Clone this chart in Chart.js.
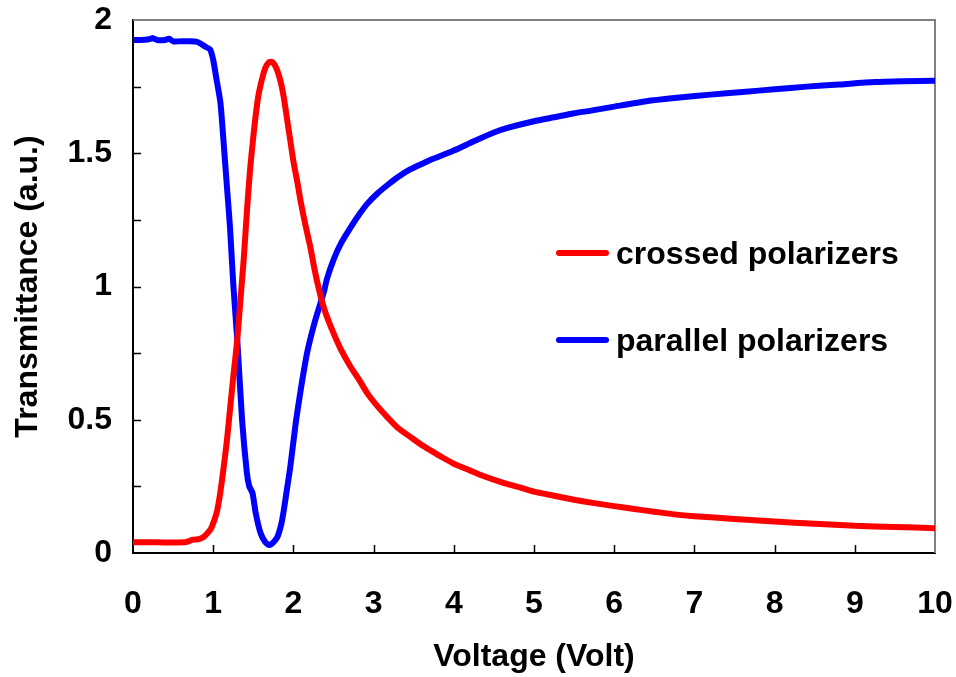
<!DOCTYPE html>
<html lang="en">
  <head>
    <meta charset="UTF-8" />
    <title>Transmittance vs Voltage</title>
    <script src="https://cdn.jsdelivr.net/npm/chart.js"></script>
    <style>
      body { margin: 0; background: #fff; }
      canvas { display: block; }
    </style>
  </head>
  <body>
    <canvas id="transChart" width="956" height="677"></canvas>

    <script>
      // crossed polarizers (red)
      const crossedV = [0, 0.3, 0.65, 0.7, 0.75, 0.82, 0.88, 0.93, 0.97, 1.01, 1.05, 1.09, 1.13, 1.17, 1.21, 1.25, 1.3, 1.34, 1.38, 1.42, 1.46, 1.51, 1.56, 1.61, 1.65, 1.69, 1.73, 1.77, 1.8, 1.84, 1.88, 1.92, 1.96, 2.0, 2.05, 2.09, 2.15, 2.21, 2.26, 2.31, 2.37, 2.42, 2.5, 2.59, 2.71, 2.82, 2.92, 3.05, 3.17, 3.3, 3.46, 3.6, 3.71, 3.85, 4.0, 4.2, 4.36, 4.6, 4.8, 5.0, 5.25, 5.5, 5.75, 6.0, 6.25, 6.5, 6.75, 7.0, 7.5, 8.0, 8.5, 9.0, 9.5, 10];
      const crossedT = [0.04, 0.04, 0.04, 0.045, 0.05, 0.052, 0.06, 0.075, 0.09, 0.12, 0.16, 0.23, 0.32, 0.42, 0.54, 0.66, 0.8, 0.95, 1.1, 1.28, 1.44, 1.59, 1.71, 1.78, 1.82, 1.84, 1.843, 1.83, 1.81, 1.77, 1.71, 1.63, 1.55, 1.47, 1.39, 1.32, 1.23, 1.15, 1.07, 1.0, 0.93, 0.885, 0.825, 0.765, 0.7, 0.65, 0.6, 0.55, 0.51, 0.47, 0.435, 0.405, 0.385, 0.36, 0.335, 0.31, 0.29, 0.265, 0.248, 0.23, 0.215, 0.2, 0.187, 0.176, 0.165, 0.155, 0.145, 0.138, 0.128, 0.118, 0.11, 0.102, 0.098, 0.093];

      // parallel polarizers (blue)
      const parallelV = [0, 0.1, 0.2, 0.25, 0.3, 0.4, 0.45, 0.5, 0.6, 0.7, 0.8, 0.85, 0.9, 0.96, 1.0, 1.04, 1.09, 1.12, 1.15, 1.18, 1.21, 1.25, 1.3, 1.36, 1.42, 1.45, 1.49, 1.53, 1.59, 1.65, 1.7, 1.75, 1.8, 1.85, 1.88, 1.92, 1.96, 2.03, 2.09, 2.17, 2.26, 2.33, 2.38, 2.42, 2.5, 2.59, 2.71, 2.82, 2.92, 3.05, 3.17, 3.3, 3.46, 3.6, 3.75, 4.0, 4.25, 4.5, 4.67, 5.0, 5.25, 5.5, 5.71, 6.0, 6.4, 6.75, 7.2, 7.6, 8.0, 8.4, 8.8, 9.25, 9.6, 10];
      const parallelT = [1.925, 1.925, 1.928, 1.932, 1.925, 1.925, 1.93, 1.92, 1.92, 1.92, 1.918, 1.91, 1.9, 1.89, 1.85, 1.78, 1.69, 1.58, 1.46, 1.34, 1.22, 1.01, 0.8, 0.5, 0.3, 0.25, 0.225, 0.15, 0.075, 0.04, 0.03, 0.04, 0.06, 0.11, 0.16, 0.24, 0.32, 0.49, 0.61, 0.75, 0.86, 0.93, 0.98, 1.03, 1.1, 1.16, 1.22, 1.27, 1.31, 1.35, 1.38, 1.41, 1.44, 1.46, 1.48, 1.51, 1.545, 1.578, 1.595, 1.62, 1.635, 1.65, 1.66, 1.675, 1.695, 1.707, 1.72, 1.73, 1.74, 1.75, 1.758, 1.767, 1.77, 1.772];

      const xTicks = [0, 1, 2, 3, 4, 5, 6, 7, 8, 9, 10];
      const yTicks = [0, 0.5, 1, 1.5, 2];
      const yMinorTicks = [0.25, 0.5, 0.75, 1, 1.25, 1.5, 1.75];

      const FONT = "'Liberation Sans', Arial, sans-serif";
      const TEXT = { family: FONT, size: 32, weight: "bold" };

      function toPoints(xs, ys) {
        return xs.map((x, i) => ({ x: x, y: ys[i] }));
      }

      // gray top/right frame, inward tick marks and the in-plot legend
      const frameTicks = {
        id: "frameTicks",
        beforeDatasetsDraw(chart) {
          const { ctx, chartArea: a, scales } = chart;
          ctx.save();
          ctx.strokeStyle = "#808080";
          ctx.lineWidth = 2;
          ctx.beginPath();
          ctx.moveTo(a.left, a.top);
          ctx.lineTo(a.right, a.top);
          ctx.lineTo(a.right, a.bottom);
          ctx.stroke();

          ctx.strokeStyle = "#000";
          ctx.lineWidth = 1.5;
          ctx.beginPath();
          xTicks.slice(1, -1).forEach((v) => {
            const px = Math.round(scales.x.getPixelForValue(v)) + 0.5;
            ctx.moveTo(px, a.bottom);
            ctx.lineTo(px, a.bottom - 8);
          });
          yMinorTicks.forEach((v) => {
            const py = Math.round(scales.y.getPixelForValue(v)) + 0.5;
            ctx.moveTo(a.left, py);
            ctx.lineTo(a.left + 8, py);
          });
          ctx.stroke();
          ctx.restore();
        },
        afterDraw(chart) {
          const { ctx } = chart;
          const rows = [
            { ds: chart.data.datasets[0], y: 253 },
            { ds: chart.data.datasets[1], y: 340 },
          ];
          ctx.save();
          ctx.lineCap = "round";
          ctx.font = "bold 32px " + FONT;
          ctx.textBaseline = "middle";
          ctx.fillStyle = "#000";
          rows.forEach((r) => {
            ctx.strokeStyle = r.ds.borderColor;
            ctx.lineWidth = 6;
            ctx.beginPath();
            ctx.moveTo(559, r.y);
            ctx.lineTo(606, r.y);
            ctx.stroke();
            ctx.fillText(r.ds.label, 616, r.y + 2);
          });
          ctx.restore();
        },
      };

      const config = {
        type: "scatter",
        data: {
          datasets: [
            {
              label: "crossed polarizers",
              data: toPoints(crossedV, crossedT),
              borderColor: "#ff0000",
              backgroundColor: "#ff0000",
              borderWidth: 6,
              showLine: true,
              pointRadius: 0,
              tension: 0.2,
            },
            {
              label: "parallel polarizers",
              data: toPoints(parallelV, parallelT),
              borderColor: "#0000ff",
              backgroundColor: "#0000ff",
              borderWidth: 6,
              showLine: true,
              pointRadius: 0,
              tension: 0.2,
            },
          ],
        },
        options: {
          responsive: false,
          animation: false,
          layout: { padding: { top: 20, right: 21, left: 0, bottom: 0 } },
          plugins: {
            legend: { display: false },
            tooltip: { enabled: false },
          },
          scales: {
            x: {
              type: "linear",
              min: 0,
              max: 10,
              afterFit: (s) => {
                s.height = 124;
                s.paddingLeft = 0;
                s.paddingRight = 0;
              },
              afterBuildTicks: (s) => { s.ticks = xTicks.map((v) => ({ value: v })); },
              ticks: {
                color: "#000",
                padding: 32,
                maxRotation: 0,
                callback: (v) => String(v),
                font: TEXT,
              },
              grid: { display: false, drawTicks: false, tickLength: 0 },
              border: { display: true, color: "#000", width: 2 },
              title: {
                display: true,
                text: "Voltage (Volt)",
                color: "#000",
                padding: { top: 0, bottom: 1 },
                font: TEXT,
              },
            },
            y: {
              type: "linear",
              min: 0,
              max: 2,
              afterFit: (s) => {
                s.width = 133;
                s.paddingTop = 0;
                s.paddingBottom = 0;
              },
              afterBuildTicks: (s) => { s.ticks = yTicks.map((v) => ({ value: v })); },
              ticks: {
                color: "#000",
                padding: 21,
                callback: (v) => String(v),
                font: TEXT,
              },
              grid: { display: false, drawTicks: false, tickLength: 0 },
              border: { display: true, color: "#000", width: 2 },
              title: {
                display: true,
                text: "Transmittance (a.u.)",
                color: "#000",
                padding: { top: 9, bottom: 0 },
                font: TEXT,
              },
            },
          },
        },
        plugins: [frameTicks],
      };

      const transChart = new Chart(document.getElementById("transChart"), config);
    </script>
  </body>
</html>
